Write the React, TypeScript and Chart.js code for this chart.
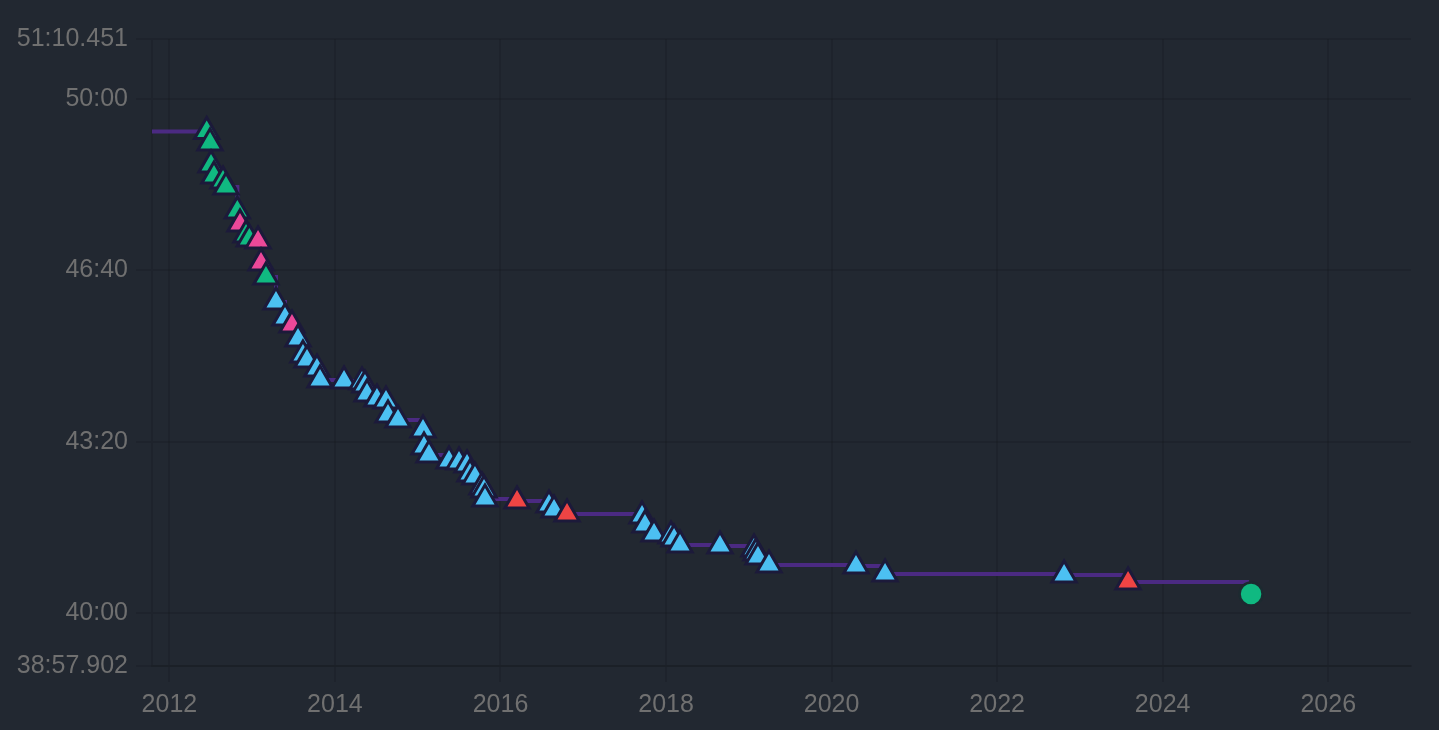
import { useEffect, useRef } from "react";
import { Chart, registerables } from "chart.js";

Chart.register(...registerables);

// record dates as decimal years, times in seconds
const recordYears = [
  2012.451, 2012.491, 2012.503, 2012.539, 2012.648, 2012.684, 2012.821, 2012.853,
  2012.926, 2012.966, 2013.071, 2013.107, 2013.167, 2013.288, 2013.397, 2013.481,
  2013.554, 2013.614, 2013.663, 2013.783, 2013.82, 2014.11, 2014.327, 2014.363,
  2014.388, 2014.508, 2014.617, 2014.641, 2014.762, 2015.064, 2015.076, 2015.136,
  2015.378, 2015.499, 2015.596, 2015.632, 2015.692, 2015.777, 2015.801, 2015.813,
  2016.2, 2016.586, 2016.647, 2016.804, 2017.71, 2017.746, 2017.855, 2018.06,
  2018.097, 2018.169, 2018.652, 2019.063, 2019.087, 2019.111, 2019.244, 2020.295,
  2020.646, 2022.809, 2023.582,
];
const recordTimes = [
  2962.4, 2949.0, 2923.3, 2910.4, 2904.6, 2897.5, 2869.5, 2854.3,
  2841.5, 2836.8, 2834.5, 2808.8, 2792.4, 2763.2, 2744.5, 2736.3,
  2720.0, 2701.3, 2695.4, 2684.9, 2672.1, 2671.0, 2669.8, 2666.3,
  2655.7, 2649.9, 2647.5, 2631.2, 2625.3, 2613.6, 2593.8, 2584.4,
  2577.4, 2576.2, 2572.7, 2562.2, 2558.7, 2547.0, 2543.5, 2533.0,
  2530.7, 2526.0, 2520.2, 2515.5, 2513.2, 2502.6, 2492.1, 2489.8,
  2486.3, 2479.3, 2478.1, 2474.6, 2469.9, 2465.2, 2455.9, 2454.8,
  2445.4, 2444.2, 2436.0,
];
// g = green, p = pink, b = blue, r = red
const recordKinds = [
  "g", "g", "g", "g", "g", "g", "g", "p",
  "g", "g", "p", "p", "g", "b", "b", "p",
  "b", "b", "b", "b", "b", "b", "b", "b",
  "b", "b", "b", "b", "b", "b", "b", "b",
  "b", "b", "b", "b", "b", "b", "b", "b",
  "r", "b", "b", "r", "b", "b", "b", "b",
  "b", "b", "b", "b", "b", "b", "b", "b",
  "b", "b", "r",
];

const startYear = 2011.79;
const endYear = 2027;
const lineEndYear = 2025.044;
const currentYear = 2025.068;
const currentTime = 2422.0;

const yMin = 2337.902;
const yMax = 3070.451;
const yTicks = [yMin, 2400, 2600, 2800, 3000, yMax];
const xTicks = [2012, 2014, 2016, 2018, 2020, 2022, 2024, 2026];

const kindColors: Record<string, string> = {
  g: "#10b981",
  p: "#ec4899",
  b: "#4cc0f2",
  r: "#ef4444",
};

const fmtTime = (s: number) => {
  const m = Math.floor(s / 60);
  const sec = s - m * 60;
  const whole = Math.floor(sec + 1e-9);
  const ms = Math.round((sec - whole) * 1000);
  let out = `${m}:${String(whole).padStart(2, "0")}`;
  if (ms > 0) out += "." + String(ms).padStart(3, "0");
  return out;
};

const App = () => {
  const canvasRef = useRef<HTMLCanvasElement>(null);

  useEffect(() => {
    if (!canvasRef.current) return;
    const records = recordYears.map((x, i) => ({ x, y: recordTimes[i] }));
    const last = recordTimes[recordTimes.length - 1];
    const lineData = [
      { x: startYear, y: recordTimes[0] },
      ...records,
      { x: lineEndYear, y: last },
    ];
    const grid = {
      color: "rgba(0,0,0,0.1)",
      lineWidth: 2,
      tickLength: 16,
    };
    const tickFont = {
      family: "'Helvetica Neue', Helvetica, Arial, sans-serif",
      size: 25,
    };

    const chart = new Chart(canvasRef.current, {
      type: "line",
      data: {
        datasets: [
          {
            data: records,
            showLine: false,
            pointStyle: "triangle",
            pointRadius: 14,
            borderWidth: 3,
            borderColor: "#1c1a3a",
            backgroundColor: recordKinds.map((k) => kindColors[k]),
            order: 0,
          },
          {
            data: [{ x: currentYear, y: currentTime }],
            showLine: false,
            pointStyle: "circle",
            pointRadius: 11.5,
            borderWidth: 2.5,
            borderColor: "#1c2a30",
            backgroundColor: "#10b981",
            order: 1,
          },
          {
            data: lineData,
            stepped: true,
            pointRadius: 0,
            borderColor: "#4b2a82",
            borderWidth: 4,
            order: 2,
          },
        ],
      },
      options: {
        animation: false,
        responsive: true,
        maintainAspectRatio: false,
        layout: { padding: { top: 39, right: 28, left: 0, bottom: 0 } },
        plugins: { legend: { display: false }, tooltip: { enabled: false } },
        scales: {
          x: {
            type: "linear",
            min: startYear,
            max: endYear,
            grid,
            border: { color: "rgba(0,0,0,0.1)", width: 2 },
            afterBuildTicks: (s: any) => {
              s.ticks = xTicks.map((value) => ({ value }));
            },
            afterFit: (s: any) => {
              s.height = 64;
            },
            ticks: {
              color: "#707070",
              font: tickFont,
              padding: 8,
              maxRotation: 0,
              callback: (v: any) => String(v),
            },
          },
          y: {
            type: "linear",
            min: yMin,
            max: yMax,
            grid,
            border: { color: "rgba(0,0,0,0.1)", width: 2 },
            afterBuildTicks: (s: any) => {
              s.ticks = yTicks.map((value) => ({ value }));
            },
            afterFit: (s: any) => {
              s.width = 152;
            },
            ticks: {
              color: "#707070",
              font: tickFont,
              padding: 8,
              callback: (v: any) => fmtTime(Number(v)),
            },
          },
        },
      },
    });

    return () => chart.destroy();
  }, []);

  return (
    <div style={{ position: "fixed", inset: 0, background: "#222831" }}>
      <div style={{ position: "relative", width: "100%", height: "100%" }}>
        <canvas ref={canvasRef} />
      </div>
    </div>
  );
};

export default App;
